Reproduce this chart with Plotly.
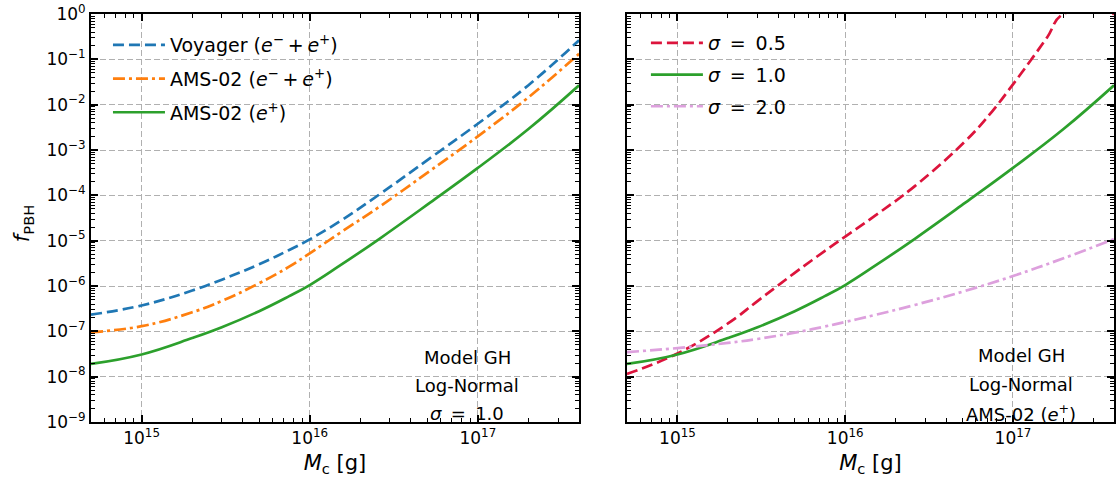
import math
import plotly.graph_objects as go

# ---------------- data ----------------
mass = [5e14, 1e15, 2e15, 3e15, 5e15, 7.5e15, 1e16, 1.5e16, 2.6e16, 5.2e16, 1e17, 2e17, 4e17]

f_voyager_ee = [2.34e-7, 3.72e-7, 7.94e-7, 1.38e-6, 3.02e-6, 6.17e-6, 1.07e-5, 2.63e-5, 1.05e-4, 6.61e-4, 3.80e-3, 2.69e-2, 0.263]
f_ams_ee = [9.55e-8, 1.30e-7, 2.63e-7, 4.68e-7, 1.15e-6, 2.63e-6, 5.25e-6, 1.45e-5, 5.62e-5, 3.47e-4, 2.0e-3, 1.45e-2, 0.132]
f_ams_pos = [1.91e-8, 3.09e-8, 7.10e-8, 1.23e-7, 2.78e-7, 5.89e-7, 1.05e-6, 2.77e-6, 1.10e-5, 6.89e-5, 4.03e-4, 2.90e-3, 2.67e-2]

mass_s05 = [5e14, 1e15, 2e15, 3e15, 5e15, 7.5e15, 1e16, 1.5e16, 2.6e16, 5.2e16, 7.5e16, 1e17, 1.27e17, 1.6e17, 2e17, 4e17]
f_sigma05 = [1.15e-8, 3.25e-8, 1.49e-7, 4.65e-7, 1.95e-6, 5.81e-6, 1.23e-5, 3.52e-5, 1.60e-4, 1.57e-3, 7.06e-3, 2.81e-2, 9.31e-2, 0.308, 1.0, 1.0]
f_sigma10 = f_ams_pos
f_sigma20 = [3.47e-8, 4.27e-8, 5.55e-8, 6.79e-8, 9.38e-8, 1.27e-7, 1.61e-7, 2.29e-7, 3.82e-7, 7.80e-7, 1.66e-6, 4.09e-6, 1.08e-5]

x_tick_vals = [1e15, 1e16, 1e17]
x_tick_text = ["10<sup>15</sup>", "10<sup>16</sup>", "10<sup>17</sup>"]
y_tick_vals = [10.0 ** (-k) for k in range(0, 10)]
y_tick_text = ["10<sup>0</sup>"] + ["10<sup>\u2212%d</sup>" % k for k in range(1, 10)]

SP = "\u2009"  # thin space (mathtext-like operator spacing)
left_labels = ["Voyager (<i>e</i><sup>\u2212</sup>" + SP + "+" + SP + "<i>e</i><sup>+</sup>)",
               "AMS-02 (<i>e</i><sup>\u2212</sup>" + SP + "+" + SP + "<i>e</i><sup>+</sup>)",
               "AMS-02 (<i>e</i><sup>+</sup>)"]
right_labels = ["<i>\u03c3</i> " + SP + "=" + SP + " 0.5",
                "<i>\u03c3</i> " + SP + "=" + SP + " 1.0",
                "<i>\u03c3</i> " + SP + "=" + SP + " 2.0"]

# ---------------- styling ----------------
FONT = "DejaVu Sans"
BLUE, ORANGE, GREEN, RED, PLUM = "#1f77b4", "#ff7f0e", "#2ca02c", "#dc143c", "#dda0dd"
LW = 2.7
DASH = "11px,5px"
DASHDOT = "12px,4px,3px,4px"
GRID = "#b0b0b0"

minor_x = [k * 10.0 ** e for e in range(14, 18) for k in range(2, 10)]
minor_y = [k * 10.0 ** e for e in range(-9, 0) for k in range(2, 10)]

fig = go.Figure()

def add(x, y, name, color, dash, xa, ya, legend, grp):
    fig.add_trace(go.Scatter(x=x, y=y, mode="lines", name=name,
                             line=dict(color=color, width=LW, dash=dash, shape="spline", smoothing=1.2),
                             xaxis=xa, yaxis=ya, legend=legend, legendgroup=grp))

add(mass, f_voyager_ee, left_labels[0], BLUE, DASH, "x", "y", "legend", "a")
add(mass, f_ams_ee, left_labels[1], ORANGE, DASHDOT, "x", "y", "legend", "b")
add(mass, f_ams_pos, left_labels[2], GREEN, "solid", "x", "y", "legend", "c")

add(mass_s05, f_sigma05, right_labels[0], RED, DASH, "x2", "y2", "legend2", "d")
add(mass, f_sigma10, right_labels[1], GREEN, "solid", "x2", "y2", "legend2", "e")
add(mass, f_sigma20, right_labels[2], PLUM, DASHDOT, "x2", "y2", "legend2", "f")

xrange = [math.log10(5e14), math.log10(4e17)]

def xaxis(domain, anchor):
    return dict(type="log", range=xrange, domain=domain, anchor=anchor,
                tickmode="array", tickvals=x_tick_vals, ticktext=x_tick_text,
                ticks="inside", ticklen=7, tickwidth=1.5, tickcolor="black",
                showline=True, linecolor="black", linewidth=1.8, mirror="ticks",
                showgrid=True, gridcolor=GRID, griddash="6px,3px", gridwidth=1,
                zeroline=False,
                minor=dict(tickmode="array", tickvals=minor_x, ticks="inside", ticklen=4,
                           tickwidth=1, tickcolor="black", showgrid=False),
                tickfont=dict(family=FONT, size=17, color="black"),
                title=dict(text="<i>M</i><sub>c</sub> [g]", font=dict(family=FONT, size=21, color="black"),
                           standoff=8))

def yaxis(anchor, labels):
    return dict(type="log", range=[-9, 0], anchor=anchor, domain=[0, 1],
                tickmode="array", tickvals=y_tick_vals, ticktext=y_tick_text,
                showticklabels=labels,
                ticks="inside", ticklen=7, tickwidth=1.5, tickcolor="black",
                showline=True, linecolor="black", linewidth=1.8, mirror="ticks",
                showgrid=True, gridcolor=GRID, griddash="6px,3px", gridwidth=1,
                zeroline=False,
                minor=dict(tickmode="array", tickvals=minor_y, ticks="inside", ticklen=4,
                           tickwidth=1, tickcolor="black", showgrid=False),
                tickfont=dict(family=FONT, size=17, color="black"))

L, R, T, B, W, H = 91, 2, 14, 57, 1118, 479
pw, ph = W - L - R, H - T - B

legend_common = dict(bgcolor="rgba(0,0,0,0)", borderwidth=0, traceorder="grouped",
                     font=dict(family=FONT, size=19, color="black"),
                     xanchor="left", yanchor="top", itemwidth=52)

annotations = []
for i, t in enumerate(["Model GH", "Log-Normal", "<i>\u03c3</i>" + SP + " = " + SP + "1.0"]):
    annotations.append(dict(text=t, x=468, y=357 + 28 * i))
for i, t in enumerate(["Model GH", "Log-Normal", "AMS-02 (<i>e</i><sup>+</sup>)"]):
    annotations.append(dict(text=t, x=1023, y=355 + 29 * i))
for a in annotations:
    a["x"] = (a["x"] - L) / pw
    a["y"] = 1 - (a["y"] - T) / ph
    a.update(xref="paper", yref="paper", showarrow=False, xanchor="center", yanchor="middle",
             font=dict(family=FONT, size=18, color="black"))

# y-axis title (rotated)
annotations.append(dict(text="<i>f</i><sub>PBH</sub>", textangle=-90,
                        x=(23 - L) / pw, y=1 - (224 - T) / ph, xref="paper", yref="paper",
                        showarrow=False, xanchor="center", yanchor="middle",
                        font=dict(family=FONT, size=21, color="black")))

fig.update_layout(
    width=W, height=H,
    margin=dict(l=L, r=R, t=T, b=B),
    paper_bgcolor="white", plot_bgcolor="white",
    xaxis=xaxis([0, 489 / pw], "y"),
    yaxis=yaxis("x", True),
    xaxis2=xaxis([537 / pw, 1], "y2"),
    yaxis2=yaxis("x2", False),
    legend=dict(x=(108 - L) / pw, y=1 - (26 - T) / ph, tracegroupgap=6, **legend_common),
    legend2=dict(x=(647 - L) / pw, y=1 - (24 - T) / ph, tracegroupgap=4, **legend_common),
    annotations=annotations,
    showlegend=True,
)

fig.write_html("out.html")
